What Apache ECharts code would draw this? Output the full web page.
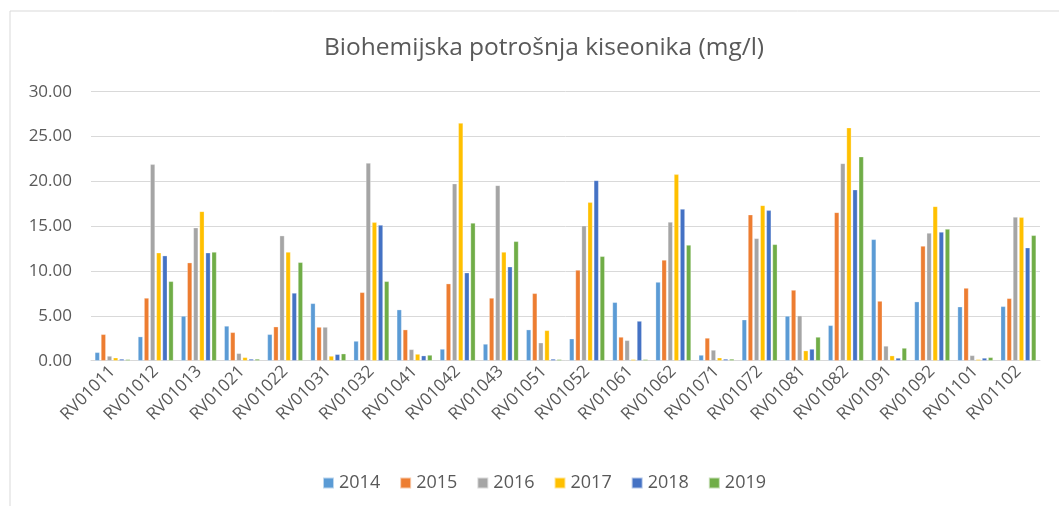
<!DOCTYPE html>
<html>
<head>
<meta charset="utf-8">
<script src="https://cdn.jsdelivr.net/npm/echarts@6/dist/echarts.min.js"></script>
<style>
  html, body { margin: 0; padding: 0; background: #fff; }
  #main { width: 1059px; height: 506px; }
</style>
</head>
<body>
<div id="main"></div>
<script>
var categories = ["RV01011", "RV01012", "RV01013", "RV01021", "RV01022", "RV01031", "RV01032",
  "RV01041", "RV01042", "RV01043", "RV01051", "RV01052", "RV01061", "RV01062", "RV01071",
  "RV01072", "RV01081", "RV01082", "RV01091", "RV01092", "RV01101", "RV01102"];

var years = ["2014", "2015", "2016", "2017", "2018", "2019"];

var v2014 = [0.93, 2.68, 4.98, 3.87, 2.94, 6.39, 2.19, 5.69, 1.30, 1.86, 3.46, 2.45, 6.51, 8.77, 0.63, 4.57, 4.98, 3.94, 13.53, 6.58, 6.02, 6.06];
var v2015 = [2.94, 6.99, 10.93, 3.16, 3.79, 3.75, 7.62, 3.46, 8.59, 6.99, 7.51, 10.11, 2.64, 11.23, 2.53, 16.28, 7.88, 16.54, 6.65, 12.79, 8.10, 6.95];
var v2016 = [0.52, 21.90, 14.83, 0.82, 13.94, 3.75, 22.04, 1.26, 19.74, 19.55, 2.00, 15.06, 2.27, 15.46, 1.19, 13.64, 5.02, 22.00, 1.64, 14.24, 0.59, 16.02];
var v2017 = [0.33, 12.04, 16.65, 0.37, 12.12, 0.52, 15.43, 0.74, 26.50, 12.12, 3.38, 17.66, 0.15, 20.78, 0.33, 17.32, 1.12, 25.99, 0.56, 17.21, 0.15, 15.99];
var v2018 = [0.19, 11.71, 12.04, 0.19, 7.55, 0.71, 15.13, 0.56, 9.81, 10.48, 0.19, 20.11, 4.42, 16.91, 0.19, 16.77, 1.30, 19.07, 0.30, 14.35, 0.30, 12.60];
var v2019 = [0.15, 8.85, 12.12, 0.19, 10.97, 0.78, 8.85, 0.63, 15.35, 13.31, 0.15, 11.64, 0.15, 12.90, 0.19, 12.97, 2.64, 22.75, 1.41, 14.68, 0.37, 13.98];

var values = [v2014, v2015, v2016, v2017, v2018, v2019];
var colors = ["#5B9BD5", "#ED7D31", "#A5A5A5", "#FFC000", "#4472C4", "#70AD47"];

var font = "Open Sans";
var textColor = "#595959";

var myChart = echarts.init(document.getElementById("main"));

var series = years.map(function (y, i) {
  return {
    name: y,
    type: "bar",
    data: values[i],
    barGap: "28%",
    barCategoryGap: "18%",
    itemStyle: { color: colors[i], borderColor: "rgba(255,255,255,0.6)", borderWidth: 0.5 }
  };
});

myChart.setOption({
  animation: false,
  color: colors,
  textStyle: { fontFamily: font },
  graphic: [{
    type: "rect",
    shape: { x: 10, y: 11, width: 1070, height: 520 },
    style: { fill: "none", stroke: "#d9d9d9", lineWidth: 1 },
    silent: true
  }],
  title: {
    text: "Biohemijska potrošnja kiseonika (mg/l)",
    left: 319,
    top: 31,
    textStyle: { fontFamily: font, fontSize: 24.5, fontWeight: "normal", color: textColor }
  },
  legend: {
    top: 469,
    left: 317,
    itemWidth: 11,
    itemHeight: 11,
    itemGap: 19,
    icon: "rect",
    textStyle: { fontFamily: font, fontSize: 18, color: textColor }
  },
  grid: { left: 91, right: 19, top: 91.7, bottom: 145.3 },
  xAxis: {
    type: "category",
    data: categories,
    axisLine: { lineStyle: { color: "#d9d9d9", width: 1 } },
    axisTick: { show: false },
    axisLabel: { rotate: 45, fontFamily: font, fontSize: 17, color: textColor, margin: 8, interval: 0 }
  },
  yAxis: {
    type: "value",
    min: 0,
    max: 30,
    interval: 5,
    axisLine: { show: false },
    axisTick: { show: false },
    splitLine: { lineStyle: { color: "#d9d9d9", width: 1 } },
    axisLabel: {
      fontFamily: font, fontSize: 17, color: textColor, margin: 19,
      formatter: function (v) { return v.toFixed(2); }
    }
  },
  series: series
});
</script>
</body>
</html>
